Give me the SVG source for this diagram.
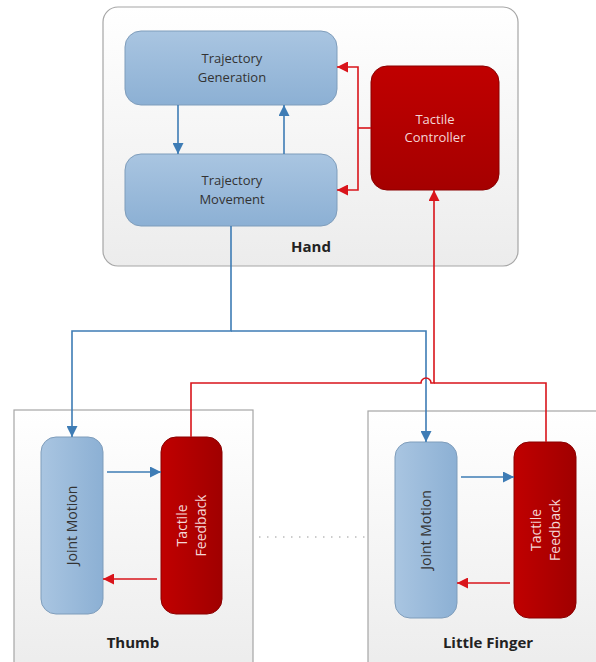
<svg xmlns="http://www.w3.org/2000/svg" width="596" height="662" viewBox="0 0 596 662">
  <defs>
    <linearGradient id="gPanel" x1="0" y1="0" x2="0" y2="1">
      <stop offset="0" stop-color="#ffffff"/>
      <stop offset="1" stop-color="#ececec"/>
    </linearGradient>
    <linearGradient id="gBlueH" x1="0" y1="0" x2="0" y2="1">
      <stop offset="0" stop-color="#a9c5e1"/>
      <stop offset="1" stop-color="#8cb0d4"/>
    </linearGradient>
    <linearGradient id="gBlueV" x1="0" y1="0" x2="1" y2="0">
      <stop offset="0" stop-color="#a9c5e1"/>
      <stop offset="1" stop-color="#8cb0d4"/>
    </linearGradient>
    <linearGradient id="gRedH" x1="0" y1="0" x2="0" y2="1">
      <stop offset="0" stop-color="#c00000"/>
      <stop offset="1" stop-color="#a50000"/>
    </linearGradient>
    <linearGradient id="gRedV" x1="0" y1="0" x2="1" y2="0">
      <stop offset="0" stop-color="#c00000"/>
      <stop offset="1" stop-color="#a00000"/>
    </linearGradient>
    <marker id="aBlue" viewBox="0 0 10 10" refX="10" refY="5" markerWidth="11" markerHeight="11" markerUnits="userSpaceOnUse" orient="auto">
      <path d="M0,0 L10,5 L0,10 Z" fill="#3e7cb5"/>
    </marker>
    <marker id="aRed" viewBox="0 0 10 10" refX="10" refY="5" markerWidth="11" markerHeight="11" markerUnits="userSpaceOnUse" orient="auto">
      <path d="M0,0 L10,5 L0,10 Z" fill="#d9141b"/>
    </marker>
  </defs>
  <style>
    .panel { fill: url(#gPanel); stroke: #a6a6a6; stroke-width: 1.2; }
    .blueH { fill: url(#gBlueH); stroke: #7f9dbb; stroke-width: 1; }
    .blueV { fill: url(#gBlueV); stroke: #7f9dbb; stroke-width: 1; }
    .redH { fill: url(#gRedH); stroke: #8a0000; stroke-width: 1; }
    .redV { fill: url(#gRedV); stroke: #8a0000; stroke-width: 1; }
    .t { font-family: "Open Sans", "Liberation Sans", sans-serif; font-size: 13px; fill: #333333; text-anchor: middle; }
    .tw { font-family: "Open Sans", "Liberation Sans", sans-serif; font-size: 13px; fill: #f4d6d6; text-anchor: middle; }
    .v { font-size: 14px; }
    .lbl { font-family: "Open Sans", "Liberation Sans", sans-serif; font-size: 15px; font-weight: bold; fill: #222; text-anchor: middle; }
    .lb { fill: none; stroke: #3e7cb5; stroke-width: 1.6; }
    .lr { fill: none; stroke: #d9141b; stroke-width: 1.6; }
  </style>

  <!-- containers -->
  <g id="hand">
    <rect class="panel" x="103" y="7" width="415" height="259" rx="15"/>
    <text class="lbl" x="311" y="252">Hand</text>
  </g>
  <g id="thumb">
    <rect class="panel" x="14" y="410" width="239" height="262"/>
    <text class="lbl" x="133" y="648">Thumb</text>
  </g>
  <g id="little-finger">
    <rect class="panel" x="368" y="411" width="240" height="262"/>
    <text class="lbl" x="488" y="648">Little Finger</text>
  </g>

  <!-- hand nodes -->
  <g id="trajectory-generation">
    <rect class="blueH" x="125" y="31" width="212" height="74" rx="16"/>
    <text class="t" x="232" y="63">Trajectory</text>
    <text class="t" x="232" y="82">Generation</text>
  </g>
  <g id="trajectory-movement">
    <rect class="blueH" x="125" y="154" width="212" height="72" rx="16"/>
    <text class="t" x="232" y="185">Trajectory</text>
    <text class="t" x="232" y="204">Movement</text>
  </g>
  <g id="tactile-controller">
    <rect class="redH" x="371" y="66" width="128" height="124" rx="16"/>
    <text class="tw" x="435" y="124">Tactile</text>
    <text class="tw" x="435" y="142">Controller</text>
  </g>

  <!-- thumb nodes -->
  <g id="thumb-joint-motion">
    <rect class="blueV" x="41" y="437" width="62" height="177" rx="15"/>
    <text class="t v" transform="translate(77,525.5) rotate(-90)">Joint Motion</text>
  </g>
  <g id="thumb-tactile-feedback">
    <rect class="redV" x="161" y="437" width="61" height="177" rx="15"/>
    <text class="tw v" transform="translate(187,525.5) rotate(-90)">Tactile</text>
    <text class="tw v" transform="translate(206,525.5) rotate(-90)">Feedback</text>
  </g>

  <!-- little finger nodes -->
  <g id="little-joint-motion">
    <rect class="blueV" x="395" y="442" width="62" height="176" rx="15"/>
    <text class="t v" transform="translate(431,530) rotate(-90)">Joint Motion</text>
  </g>
  <g id="little-tactile-feedback">
    <rect class="redV" x="514" y="442" width="62" height="176" rx="15"/>
    <text class="tw v" transform="translate(541,530) rotate(-90)">Tactile</text>
    <text class="tw v" transform="translate(560,530) rotate(-90)">Feedback</text>
  </g>

  <!-- connectors -->
  <g id="connectors">
    <!-- inside hand -->
    <path class="lb" d="M178,105 V154" marker-end="url(#aBlue)"/>
    <path class="lb" d="M284,154 V105" marker-end="url(#aBlue)"/>
    <path class="lr" d="M371,128 H358"/>
    <path class="lr" d="M358,128 V67 H337" marker-end="url(#aRed)"/>
    <path class="lr" d="M358,128 V190 H337" marker-end="url(#aRed)"/>

    <!-- movement to fingers -->
    <path class="lb" d="M231,226 V331 H72 V437" marker-end="url(#aBlue)"/>
    <path class="lb" d="M231,331 H426 V442" marker-end="url(#aBlue)"/>

    <!-- feedback to controller -->
    <path class="lr" d="M191,437 V383 H421 A5,5 0 0 1 431,383 H434 V190" marker-end="url(#aRed)"/>
    <path class="lr" d="M546,442 V383 H434"/>

    <!-- within fingers -->
    <path class="lb" d="M107,472 H161" marker-end="url(#aBlue)"/>
    <path class="lr" d="M157,579 H103" marker-end="url(#aRed)"/>
    <path class="lb" d="M461,477 H514" marker-end="url(#aBlue)"/>
    <path class="lr" d="M510,583 H457" marker-end="url(#aRed)"/>

    <!-- ellipsis between fingers -->
    <path d="M259,537 H368" fill="none" stroke="#9a9a9a" stroke-width="1.2" stroke-dasharray="1.5,6.5"/>
  </g>
</svg>
